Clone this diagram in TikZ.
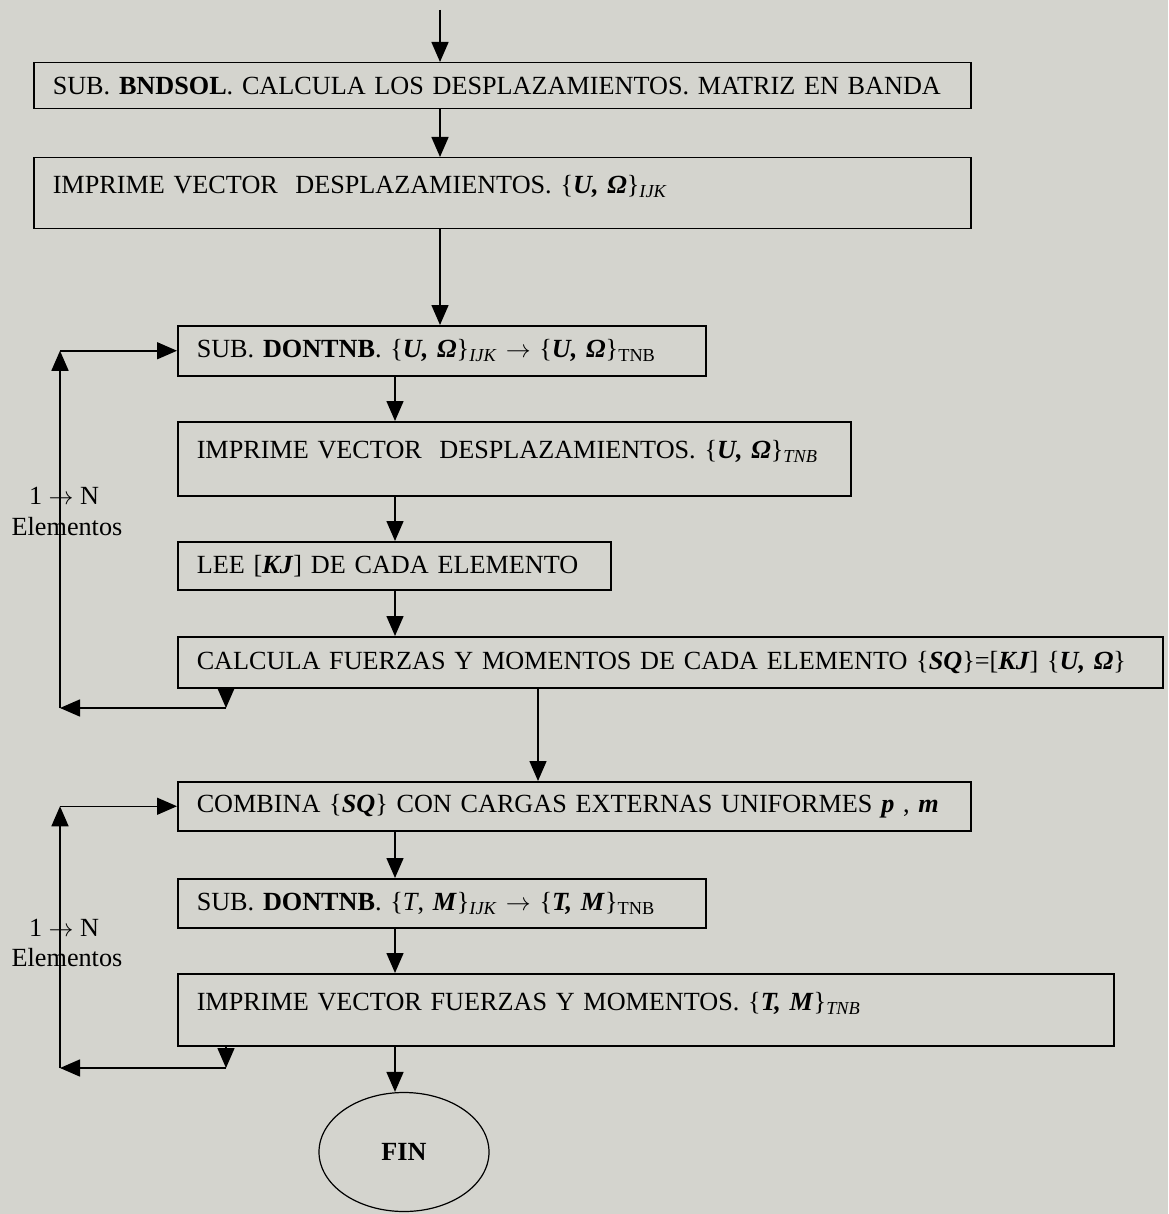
\documentclass[tikz,border=0pt]{standalone}
\usepackage{fontspec}
\setmainfont{Liberation Serif}
\usetikzlibrary{arrows.meta,shapes.geometric}
\definecolor{paper}{RGB}{212,212,206}
\newcommand{\bitx}[1]{\textbf{\textit{#1}}}

\begin{document}
\begin{tikzpicture}[x=1pt, y=-1pt,
    every node/.style={font=\fontsize{26.2}{31}\selectfont},
    box/.style={draw, line width=1.5pt, anchor=north west, align=left,
        inner xsep=19pt, inner ysep=0pt, text width=#1},
    arr/.style={line width=1.5pt, -{Triangle[length=20pt, width=17pt]}}]

    % Background
    \fill[paper] (0,0) rectangle (1168,1214);
    \useasboundingbox (0,0) rectangle (1168,1214);

    % Draw boxes
    \node[box=899, minimum height=46pt] (b1) at (33,62)
        {SUB. \textbf{BNDSOL}. CALCULA LOS DESPLAZAMIENTOS. MATRIZ EN BANDA};
    \node[box=899, minimum height=71pt, text depth=17pt] (b2) at (33,157)
        {IMPRIME VECTOR\ \ DESPLAZAMIENTOS. \{\bitx{U, Ω}\}\textsubscript{\textit{IJK}}};
    \node[box=490, minimum height=50pt] (b3) at (177,325)
        {SUB. \textbf{DONTNB}. \{\bitx{U, Ω}\}\textsubscript{\textit{IJK}} $\rightarrow$ \{\bitx{U, Ω}\}\textsubscript{TNB}};
    \node[box=635, minimum height=74pt, text depth=18pt] (b4) at (177,421)
        {IMPRIME VECTOR\ \ DESPLAZAMIENTOS. \{\bitx{U, Ω}\}\textsubscript{\textit{TNB}}};
    \node[box=395, minimum height=48pt] (b5) at (177,541)
        {LEE [\bitx{KJ}] DE CADA ELEMENTO};
    \node[box=947, minimum height=51pt] (b6) at (177,636)
        {CALCULA FUERZAS Y MOMENTOS DE CADA ELEMENTO \{\bitx{SQ}\}=[\bitx{KJ}] \{\bitx{U, Ω}\}};
    \node[box=755, minimum height=49pt] (b7) at (177,781)
        {COMBINA \{\bitx{SQ}\} CON CARGAS EXTERNAS UNIFORMES \bitx{p} , \bitx{m}};
    \node[box=490, minimum height=49pt] (b8) at (177,878)
        {SUB. \textbf{DONTNB}. \{\textit{T}, \bitx{M}\}\textsubscript{\textit{IJK}} $\rightarrow$ \{\bitx{T, M}\}\textsubscript{TNB}};
    \node[box=898, minimum height=72pt, text depth=17pt] (b9) at (177,973)
        {IMPRIME VECTOR FUERZAS Y MOMENTOS. \{\bitx{T, M}\}\textsubscript{\textit{TNB}}};
    \node[ellipse, draw, line width=1.2pt, minimum width=170pt, minimum height=119pt] (fin) at (404,1152)
        {\textbf{FIN}};

    % Loop labels
    \node (n1) at (64,496) {1 $\rightarrow$ N};
    \node (e1) at (67,527) {Elementos};
    \node (n2) at (64,928) {1 $\rightarrow$ N};
    \node (e2) at (67,958) {Elementos};

    % Draw edges
    \coordinate (x1) at (440,10);
    \coordinate (x2) at (395,0);
    \coordinate (x3) at (538,0);
    \draw[arr] (x1) -- (x1 |- b1.north);
    \draw[arr] (x1 |- b1.south) -- (x1 |- b2.north);
    \draw[arr] (x1 |- b2.south) -- (x1 |- b3.north);
    \draw[arr] (x2 |- b3.south) -- (x2 |- b4.north);
    \draw[arr] (x2 |- b4.south) -- (x2 |- b5.north);
    \draw[arr] (x2 |- b5.south) -- (x2 |- b6.north);
    \draw[arr] (x3 |- b6.south) -- (x3 |- b7.north);
    \draw[arr] (x2 |- b7.south) -- (x2 |- b8.north);
    \draw[arr] (x2 |- b8.south) -- (x2 |- b9.north);
    \draw[arr] (x2 |- b9.south) -- (x2 |- fin.north);

    % Loops over the elements
    \coordinate (r1) at (226,708);
    \coordinate (l1) at (60,708);
    \draw[arr] (r1 |- b6.south) -- (r1);
    \draw[arr] (r1) -- (l1);
    \draw[arr] (l1) -- (l1 |- b3.west);
    \draw[arr] (l1 |- b3.west) -- (b3.west);

    \coordinate (r2) at (226,1068);
    \coordinate (l2) at (60,1068);
    \draw[arr] (r2 |- b9.south) -- (r2);
    \draw[arr] (r2) -- (l2);
    \draw[arr] (l2) -- (l2 |- b7.west);
    \draw[arr] (l2 |- b7.west) -- (b7.west);
\end{tikzpicture}
\end{document}
